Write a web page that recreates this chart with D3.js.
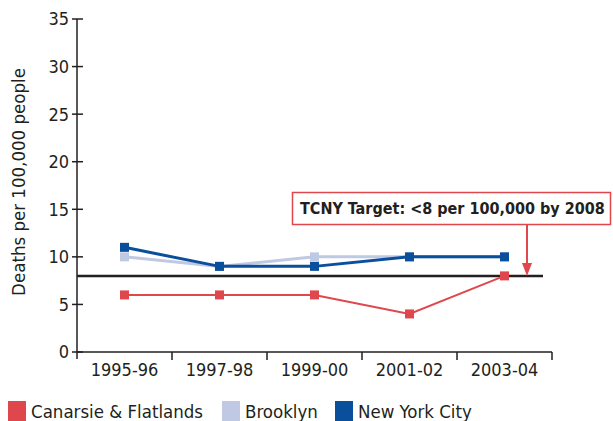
<!DOCTYPE html>
<html>
<head>
<meta charset="utf-8">
<script src="https://cdn.jsdelivr.net/npm/d3@7"></script>
<style>
  body { margin: 0; background: #fff; }
  text { font-family: "DejaVu Sans Condensed", "DejaVu Sans", sans-serif; fill: #231f20; }
</style>
</head>
<body>
<div id="chart"></div>
<script>
var years = ["1995-96", "1997-98", "1999-00", "2001-02", "2003-04"];
var canarsie = [6, 6, 6, 4, 8];
var brooklyn = [10, 9, 10, 10, 10];
var nyc = [11, 9, 9, 10, 10];
var yTicks = [0, 5, 10, 15, 20, 25, 30, 35];
var target = 8;
var targetLabel = "TCNY Target: <8 per 100,000 by 2008";

var series = [
  { name: "Brooklyn", values: brooklyn, color: "#c0c9e4", width: 3 },
  { name: "New York City", values: nyc, color: "#0a4f9c", width: 3 },
  { name: "Canarsie & Flatlands", values: canarsie, color: "#e0474c", width: 2 }
];
var legendOrder = [series[2], series[0], series[1]];

var width = 613, height = 421;
var svg = d3.select("#chart").append("svg")
  .attr("width", width)
  .attr("height", height);

var x = d3.scaleBand().domain(years).range([77, 552]);
var y = d3.scaleLinear().domain([0, 35]).range([352, 19]);

// y axis
var yAxis = svg.append("g");
yAxis.append("line")
  .attr("x1", 77).attr("x2", 77)
  .attr("y1", y(35)).attr("y2", 359)
  .attr("stroke", "#231f20").attr("stroke-width", 1.5);
yAxis.selectAll(".yt").data(yTicks).enter().append("line")
  .attr("x1", 72).attr("x2", 83)
  .attr("y1", function(d) { return y(d); })
  .attr("y2", function(d) { return y(d); })
  .attr("stroke", "#231f20").attr("stroke-width", 1.5);
yAxis.selectAll(".yl").data(yTicks).enter().append("text")
  .attr("x", 69)
  .attr("y", function(d) { return y(d); })
  .attr("dy", "0.36em")
  .attr("text-anchor", "end")
  .style("font-size", "18px")
  .text(function(d) { return d; });

svg.append("text")
  .attr("transform", "translate(25,182) rotate(-90)")
  .attr("text-anchor", "middle")
  .style("font-size", "18.5px")
  .text("Deaths per 100,000 people");

// x axis
var xAxis = svg.append("g");
xAxis.append("line")
  .attr("x1", 77).attr("x2", 552)
  .attr("y1", y(0)).attr("y2", y(0))
  .attr("stroke", "#231f20").attr("stroke-width", 1.5);
xAxis.selectAll(".xt").data(years).enter().append("line")
  .attr("x1", function(d) { return x(d) + x.bandwidth(); })
  .attr("x2", function(d) { return x(d) + x.bandwidth(); })
  .attr("y1", y(0)).attr("y2", 360)
  .attr("stroke", "#231f20").attr("stroke-width", 1.5);
xAxis.selectAll(".xl").data(years).enter().append("text")
  .attr("x", function(d) { return x(d) + x.bandwidth() / 2; })
  .attr("y", 376)
  .attr("text-anchor", "middle")
  .style("font-size", "18px")
  .text(function(d) { return d; });

// target line
svg.append("line")
  .attr("x1", 77).attr("x2", 543)
  .attr("y1", y(target)).attr("y2", y(target))
  .attr("stroke", "#231f20").attr("stroke-width", 2.5);

// series
var cx = function(d, i) { return x(years[i]) + x.bandwidth() / 2; };
var line = d3.line().x(cx).y(function(d) { return y(d); });

series.forEach(function(s) {
  var g = svg.append("g");
  g.append("path")
    .attr("d", line(s.values))
    .attr("fill", "none")
    .attr("stroke", s.color)
    .attr("stroke-width", s.width);
  g.selectAll("rect").data(s.values).enter().append("rect")
    .attr("x", function(d, i) { return cx(d, i) - 4.5; })
    .attr("y", function(d) { return y(d) - 4.5; })
    .attr("width", 9).attr("height", 9)
    .attr("fill", s.color);
});

// annotation
var ax = 527;
svg.append("rect")
  .attr("x", 292.5).attr("y", 192.5)
  .attr("width", 318).attr("height", 32)
  .attr("fill", "#fff")
  .attr("stroke", "#e0474c").attr("stroke-width", 1.5);
svg.append("text")
  .attr("x", 300).attr("y", 214)
  .style("font-size", "16px")
  .style("font-weight", "bold")
  .text(targetLabel);
svg.append("line")
  .attr("x1", ax).attr("x2", ax)
  .attr("y1", 225).attr("y2", y(target) - 10)
  .attr("stroke", "#e0474c").attr("stroke-width", 2);
svg.append("path")
  .attr("d", "M" + (ax - 5) + "," + (y(target) - 13) + "L" + (ax + 5) + "," + (y(target) - 13) + "L" + ax + "," + y(target) + "Z")
  .attr("fill", "#e0474c");

// legend
var lx = [8, 222, 335];
var leg = svg.selectAll(".leg").data(legendOrder).enter().append("g")
  .attr("transform", function(d, i) { return "translate(" + lx[i] + ",401)"; });
leg.append("rect")
  .attr("width", 18).attr("height", 20)
  .attr("fill", function(d) { return d.color; });
leg.append("text")
  .attr("x", 23).attr("y", 17)
  .style("font-size", "18.5px")
  .text(function(d) { return d.name; });
</script>
</body>
</html>
